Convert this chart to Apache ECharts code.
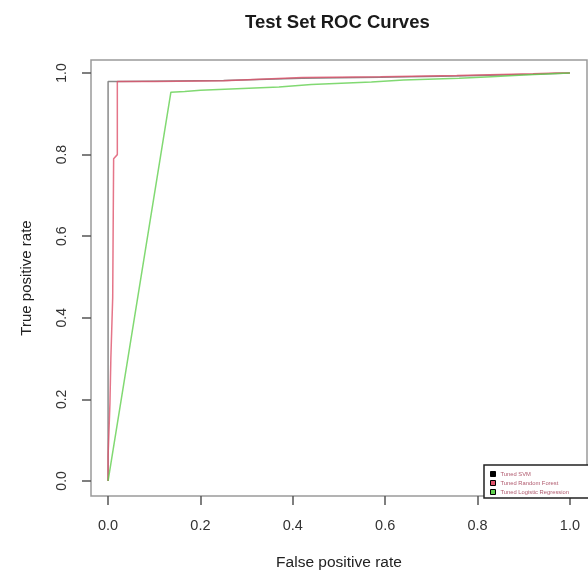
<!DOCTYPE html>
<html>
<head>
<meta charset="utf-8">
<script src="https://cdn.jsdelivr.net/npm/echarts@6/dist/echarts.min.js"></script>
<style>html,body{margin:0;padding:0;background:#fff;}#c{width:588px;height:576px;}</style>
</head>
<body>
<div id="c"></div>
<script>
const titleText = "Test Set ROC Curves";
const xName = "False positive rate";
const yName = "True positive rate";
const tickValues = [0, 0.2, 0.4, 0.6, 0.8, 1.0];
const seriesNames = ["Tuned SVM", "Tuned Random Forest", "Tuned Logistic Regression"];
const seriesColors = ["#000000", "#DF536B", "#61D04F"];

const svmFpr = [0, 0, 0.02, 0.25, 0.42, 0.59, 0.755, 0.92, 1];
const svmTpr = [0, 0.979, 0.979, 0.982, 0.987, 0.99, 0.993, 0.997, 1];

const rfFpr = [0, 0, 0.004, 0.006, 0.01, 0.012, 0.02, 0.02, 0.1, 0.25, 0.42, 0.59, 0.755, 0.92, 0.97, 1];
const rfTpr = [0, 0.06, 0.19, 0.3, 0.45, 0.79, 0.8, 0.979, 0.979, 0.981, 0.989, 0.991, 0.994, 0.998, 1, 1];

const lrFpr = [0, 0.136, 0.166, 0.2, 0.37, 0.44, 0.57, 0.64, 0.76, 0.83, 0.9, 0.96, 1];
const lrTpr = [0, 0.953, 0.955, 0.958, 0.966, 0.972, 0.978, 0.983, 0.987, 0.991, 0.995, 0.998, 1];

function pairs(xs, ys) { return xs.map((x, i) => [x, ys[i]]); }

const chart = echarts.init(document.getElementById('c'), null, {renderer: 'canvas'});
const font = "Liberation Sans, Arial, Helvetica, sans-serif";
const lineColors = ["#8a8a8a", "rgba(223,83,107,0.8)", "rgba(97,208,79,0.8)"];
const datasets = [pairs(svmFpr, svmTpr), pairs(rfFpr, rfTpr), pairs(lrFpr, lrTpr)];

chart.setOption({
  animation: false,
  backgroundColor: '#fff',
  textStyle: {fontFamily: font},
  graphic: [
    {type: 'text', left: 245, top: 13, style: {text: titleText, font: 'bold 18.5px ' + font, fill: '#1a1a1a'}},
  ],
  grid: {left: 91, right: 1, top: 60, bottom: 73, show: true, borderColor: '#9a9a9a', borderWidth: 1.5, containLabel: false},
  xAxis: {
    type: 'value', min: -0.037, max: 1.037,
    splitLine: {show: false},
    axisLine: {show: false, onZero: false},
    axisTick: {show: true, length: 9, inside: false, customValues: tickValues, lineStyle: {color: '#555', width: 1.5}},
    axisLabel: {customValues: tickValues, margin: 22, fontSize: 14.5, color: '#333', fontFamily: font,
      formatter: v => v.toFixed(1)},
    name: xName, nameLocation: 'middle', nameGap: 59,
    nameTextStyle: {fontSize: 15.5, color: '#222', fontFamily: font}
  },
  yAxis: {
    type: 'value', min: -0.037, max: 1.032,
    splitLine: {show: false},
    axisLine: {show: false, onZero: false},
    axisTick: {show: true, length: 9, inside: false, customValues: tickValues, lineStyle: {color: '#555', width: 1.5}},
    axisLabel: {customValues: tickValues, margin: 22, fontSize: 14, color: '#333', rotate: 90, fontFamily: font,
      formatter: v => v.toFixed(1)},
    name: yName, nameLocation: 'middle', nameGap: 57,
    nameTextStyle: {fontSize: 15, color: '#222', fontFamily: font}
  },
  legend: {
    orient: 'vertical', left: 484, top: 465,
    backgroundColor: '#fff',
    borderColor: '#222', borderWidth: 1.5, borderRadius: 0,
    padding: [6, 22, 3, 6],
    itemWidth: 5, itemHeight: 5, itemGap: 3,
    icon: 'rect',
    textStyle: {fontSize: 5.8, color: '#b05a6e', fontFamily: font},
    data: seriesNames.map((n, i) => ({name: n, itemStyle: {color: seriesColors[i], borderColor: '#000', borderWidth: 1}}))
  },
  series: seriesNames.map((n, i) => ({
    name: n, type: 'line', data: datasets[i], showSymbol: false, symbol: 'none',
    color: seriesColors[i],
    lineStyle: {color: lineColors[i], width: 1.5},
    z: 2 + i
  }))
});
</script>
</body>
</html>
